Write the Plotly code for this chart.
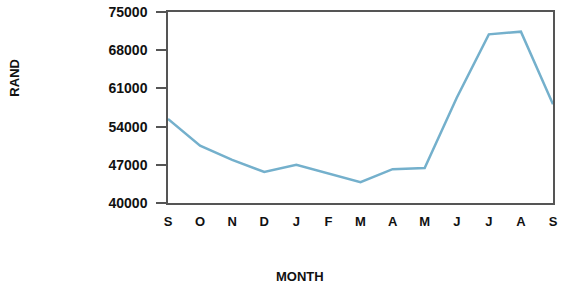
import plotly.graph_objects as go

months = ["S", "O", "N", "D", "J", "F", "M", "A", "M", "J", "J", "A", "S"]
rand = [55400, 50500, 47900, 45700, 47000, 45400, 43800, 46200, 46400, 59300, 70900, 71400, 58100]
y_ticks = [40000, 47000, 54000, 61000, 68000, 75000]

x = list(range(len(months)))

fig = go.Figure()
fig.add_trace(go.Scatter(
    x=x, y=rand, mode="lines",
    line=dict(color="#74b0cc", width=2.5),
    hoverinfo="skip", showlegend=False,
))

font_main = "Liberation Sans, Arial, sans-serif"

W, H = 562, 284
L, R, T, B = 168, 4, 11, 81
PW, PH = W - L - R, H - T - B

fig.update_layout(
    width=W, height=H,
    margin=dict(l=L, r=R, t=T, b=B),
    paper_bgcolor="white", plot_bgcolor="white",
    font=dict(family=font_main, color="#222", size=11),
    xaxis=dict(
        range=[0, 12], tickvals=x, ticktext=[f"<b>{m}</b>" for m in months],
        showgrid=False, zeroline=False, showline=True, linecolor="#555", linewidth=1.5,
        mirror=True, ticks="outside", ticklen=6, tickcolor="rgba(0,0,0,0)",
        tickfont=dict(size=13, family=font_main, color="#111"),
    ),
    yaxis=dict(
        range=[40000, 75000], tickvals=y_ticks, ticktext=[f"<b>{v}</b>" for v in y_ticks],
        showgrid=False, zeroline=False, showline=True, linecolor="#555", linewidth=1.5,
        mirror=True, ticks="outside", ticklen=10, tickcolor="#555", tickwidth=1.5,
        ticklabelstandoff=6,
        tickfont=dict(size=14, family=font_main, color="#111"),
    ),
    annotations=[
        dict(text="<b>RAND</b>", xref="paper", yref="paper",
             x=(13 - L) / PW, y=(H - 77 - B) / PH, xanchor="center", yanchor="middle",
             showarrow=False, textangle=-90,
             font=dict(size=13, family=font_main, color="#111")),
        dict(text="<b>MONTH</b>", xref="paper", yref="paper",
             x=(302 - L) / PW, y=(H - 277 - B) / PH, xanchor="center", yanchor="middle",
             showarrow=False,
             font=dict(size=13, family=font_main, color="#111")),
    ],
)

fig.write_html("out.html", config={"displayModeBar": False},
               post_script="document.body.style.margin='0';")
